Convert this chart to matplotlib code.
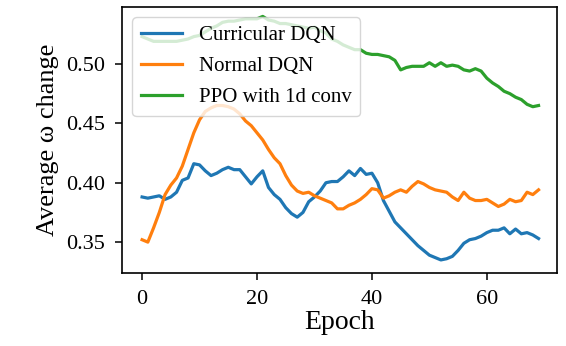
import matplotlib
matplotlib.use('Agg')
import matplotlib.pyplot as plt
import numpy as np

plt.rcParams['font.family'] = ['Liberation Serif', 'DejaVu Serif']

epochs = np.arange(70)

curricular_dqn = [
    0.388, 0.387, 0.388, 0.389, 0.386, 0.388, 0.392, 0.402, 0.404, 0.416,
    0.415, 0.410, 0.406, 0.408, 0.411, 0.413, 0.411, 0.411, 0.405, 0.399,
    0.405, 0.410, 0.396, 0.390, 0.386, 0.379, 0.374, 0.371, 0.375, 0.384,
    0.388, 0.393, 0.400, 0.401, 0.401, 0.405, 0.410, 0.406, 0.412, 0.407,
    0.408, 0.400, 0.385, 0.376, 0.367, 0.362, 0.357, 0.352, 0.347, 0.343,
    0.339, 0.337, 0.335, 0.336, 0.338, 0.343, 0.349, 0.352, 0.353, 0.355,
    0.358, 0.360, 0.360, 0.362, 0.357, 0.361, 0.357, 0.358, 0.356, 0.353,
]

normal_dqn = [
    0.352, 0.350, 0.362, 0.375, 0.390, 0.398, 0.404, 0.414, 0.428, 0.442,
    0.453, 0.460, 0.463, 0.465, 0.465, 0.464, 0.462, 0.458, 0.452, 0.448,
    0.442, 0.436, 0.428, 0.421, 0.416, 0.406, 0.398, 0.393, 0.391, 0.392,
    0.389, 0.387, 0.385, 0.383, 0.378, 0.378, 0.381, 0.383, 0.386, 0.390,
    0.395, 0.394, 0.387, 0.389, 0.392, 0.394, 0.392, 0.397, 0.401, 0.399,
    0.396, 0.394, 0.393, 0.392, 0.388, 0.385, 0.392, 0.387, 0.385, 0.385,
    0.386, 0.383, 0.380, 0.382, 0.386, 0.384, 0.385, 0.392, 0.390, 0.394,
]

ppo_1d_conv = [
    0.523, 0.521, 0.519, 0.519, 0.519, 0.519, 0.519, 0.520, 0.521, 0.523,
    0.524, 0.527, 0.530, 0.532, 0.535, 0.536, 0.536, 0.537, 0.538, 0.538,
    0.538, 0.540, 0.537, 0.536, 0.534, 0.534, 0.533, 0.532, 0.531, 0.530,
    0.531, 0.528, 0.526, 0.521, 0.519, 0.516, 0.514, 0.512, 0.512, 0.509,
    0.508, 0.508, 0.507, 0.506, 0.503, 0.495, 0.497, 0.498, 0.498, 0.498,
    0.501, 0.498, 0.501, 0.498, 0.499, 0.498, 0.495, 0.494, 0.496, 0.494,
    0.488, 0.484, 0.481, 0.477, 0.475, 0.472, 0.470, 0.466, 0.464, 0.465,
]

labels = ['Curricular DQN', 'Normal DQN', 'PPO with 1d conv']

fig = plt.figure(figsize=(5.66, 3.46), dpi=100)
ax = fig.add_axes([0.2155, 0.211, 0.7685, 0.769])
for series, lab in zip([curricular_dqn, normal_dqn, ppo_1d_conv], labels):
    ax.plot(epochs, series, lw=2.3, label=lab)

ax.set_xlim(-3.5, 72.2)
ax.set_ylim(0.324, 0.548)
ax.set_xticks([0, 20, 40, 60])
ax.set_yticks([0.35, 0.40, 0.45, 0.50])
ax.tick_params(labelsize=16, length=5, width=1.1, pad=7)
ax.set_xlabel('Epoch', fontsize=20, labelpad=1)
ax.set_ylabel('Average ω change', fontsize=19, labelpad=5)
for s in ax.spines.values():
    s.set_linewidth(1.2)
ax.legend(loc='upper left', fontsize=15, handlelength=2.0, borderaxespad=0.5,
          labelspacing=0.55, framealpha=0.8)

fig.savefig('out.png', dpi=100)
